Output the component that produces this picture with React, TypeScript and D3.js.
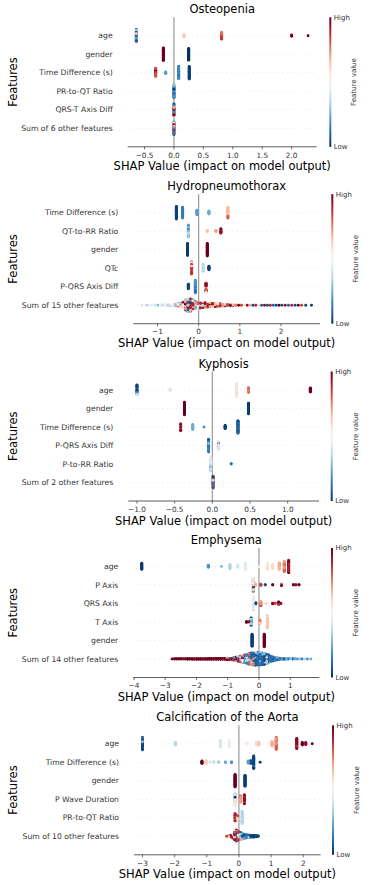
import React from "react";
import * as d3 from "d3";

// [SHAP value, number of samples at that value, normalised feature value 0 (low) .. 1 (high)]
type Cluster = [number, number, number];

// ---------------- Osteopenia ----------------
const osteoFeatures = ["age", "gender", "Time Difference (s)", "PR-to-QT Ratio", "QRS-T Axis Diff", "Sum of 6 other features"];
const osteoTicks = [-0.5, 0, 0.5, 1.0, 1.5, 2.0];
const osteoAge: Cluster[] = [
  [-0.64, 10, 0.08], [-0.64, 8, 0.22], [-0.64, 6, 0.35], [-0.64, 4, 0.45], [-0.64, 3, 0.62],
  [0.17, 8, 0.62], [0.81, 10, 0.78], [0.81, 7, 0.86], [2.0, 4, 0.98], [2.28, 1, 1.0],
];
const osteoGender: Cluster[] = [[-0.18, 31, 1.0], [0.25, 29, 0.0]];
const osteoTimeDiff: Cluster[] = [
  [-0.31, 12, 0.82], [-0.31, 7, 0.97], [-0.31, 4, 0.55], [-0.14, 5, 0.22],
  [0.08, 18, 0.18], [0.08, 12, 0.08], [0.26, 31, 0.03],
];
const osteoPrQt: Cluster[] = [[0.0, 12, 0.2], [0.0, 10, 0.1], [0.0, 6, 0.35], [0.0, 3, 0.02]];
const osteoQrsT: Cluster[] = [[0.0, 8, 0.95], [0.0, 8, 0.2], [0.0, 6, 0.5], [0.0, 5, 0.05], [0.0, 4, 0.7]];
const osteoSum: Cluster[] = [[0.0, 9, 0.15], [0.0, 7, 0.9], [0.0, 6, 0.03], [0.0, 5, 0.5], [0.0, 4, 0.7]];

// ---------------- Hydropneumothorax ----------------
const hydroFeatures = ["Time Difference (s)", "QT-to-RR Ratio", "gender", "QTc", "P-QRS Axis Diff", "Sum of 15 other features"];
const hydroTicks = [-1, 0, 1, 2];
const hydroTimeDiff: Cluster[] = [
  [-0.54, 31, 0.03], [-0.39, 27, 0.15], [-0.04, 12, 0.22], [0.25, 8, 0.25],
  [0.71, 12, 0.65], [0.71, 9, 0.8], [0.71, 6, 0.55],
];
const hydroQtRr: Cluster[] = [
  [-0.25, 12, 0.3], [-0.25, 10, 0.42], [-0.25, 9, 0.18], [0.21, 4, 0.65], [0.42, 4, 0.7],
  [0.54, 8, 0.95], [0.54, 4, 0.8],
];
const hydroGender: Cluster[] = [[-0.27, 30, 0.02], [0.21, 31, 1.0]];
const hydroQtc: Cluster[] = [
  [-0.17, 14, 0.88], [-0.17, 10, 0.7], [-0.17, 7, 0.55], [0.11, 10, 0.35], [0.11, 9, 0.45], [0.25, 10, 0.03],
];
const hydroPQrs: Cluster[] = [
  [-0.25, 12, 0.03], [-0.08, 20, 0.2], [-0.08, 11, 0.12], [0.18, 12, 0.95], [0.18, 9, 0.55], [0.18, 6, 0.8],
];
const hydroSum: Cluster[] = [
  [-1.38, 1, 0.42], [-1.31, 1, 0.5], [-1.25, 1, 0.35], [-1.18, 1, 0.45], [-1.12, 1, 0.5], [-1.05, 2, 0.4],
  [-0.99, 1, 0.28], [-0.93, 2, 0.45], [-0.87, 2, 0.38], [-0.81, 2, 0.5], [-0.75, 3, 0.35], [-0.69, 2, 0.55],
  [-0.69, 1, 0.2], [-0.63, 3, 0.45], [-0.57, 3, 0.3], [-0.57, 2, 0.7],
  [-0.5, 4, 0.45], [-0.5, 3, 0.8], [-0.5, 2, 0.2],
  [-0.44, 5, 0.6], [-0.44, 4, 0.3], [-0.44, 3, 1.0],
  [-0.38, 8, 0.55], [-0.38, 6, 0.95], [-0.38, 5, 0.3],
  [-0.32, 10, 0.7], [-0.32, 9, 1.0], [-0.32, 7, 0.4], [-0.32, 4, 0.1],
  [-0.26, 12, 0.95], [-0.26, 10, 0.6], [-0.26, 8, 0.35], [-0.26, 6, 0.1],
  [-0.2, 12, 0.9], [-0.2, 10, 0.65], [-0.2, 8, 0.4], [-0.2, 6, 0.05],
  [-0.14, 10, 0.9], [-0.14, 8, 0.6], [-0.14, 7, 0.4], [-0.14, 5, 0.1],
  [-0.08, 8, 0.85], [-0.08, 7, 0.6], [-0.08, 6, 0.3],
  [-0.02, 6, 0.8], [-0.02, 5, 0.5], [-0.02, 4, 0.2],
  [0.04, 7, 0.9], [0.04, 6, 0.6], [0.04, 4, 0.3],
  [0.1, 6, 0.95], [0.1, 5, 0.65], [0.1, 4, 0.35],
  [0.16, 6, 0.75], [0.16, 5, 0.95], [0.16, 3, 0.4],
  [0.22, 6, 0.9], [0.22, 5, 0.6], [0.22, 1, 0.3],
  [0.28, 5, 0.7], [0.28, 5, 1.0], [0.28, 2, 0.3],
  [0.34, 5, 0.9], [0.34, 5, 0.6], [0.4, 5, 0.65], [0.4, 5, 0.95],
  [0.46, 5, 0.8], [0.46, 4, 0.55], [0.52, 5, 0.9], [0.52, 3, 0.4],
  [0.58, 4, 0.7], [0.58, 3, 1.0], [0.64, 3, 0.6], [0.64, 3, 0.95],
  [0.7, 3, 0.85], [0.7, 2, 0.3], [0.77, 3, 0.95], [0.77, 1, 0.6], [0.83, 2, 0.65], [0.83, 1, 0.9],
  [0.9, 3, 0.75], [0.97, 1, 1.0], [0.97, 1, 0.6], [1.04, 1, 0.85], [1.11, 1, 0.6],
  [1.18, 1, 0.95], [1.25, 1, 0.7], [1.32, 1, 0.05], [1.39, 1, 0.9], [1.46, 1, 0.6],
  [1.53, 1, 0.08], [1.6, 1, 0.95], [1.67, 1, 0.05], [1.74, 1, 0.9], [1.81, 1, 0.1],
  [1.88, 1, 0.05], [1.95, 1, 1.0], [2.02, 1, 0.05], [2.1, 1, 0.95], [2.18, 1, 0.08],
  [2.26, 1, 0.9], [2.34, 1, 0.05], [2.42, 1, 1.0], [2.5, 1, 0.85], [2.6, 1, 0.03], [2.74, 1, 0.02],
];

// ---------------- Kyphosis ----------------
const kyphFeatures = ["age", "gender", "Time Difference (s)", "P-QRS Axis Diff", "P-to-RR Ratio", "Sum of 2 other features"];
const kyphTicks = [-1.0, -0.5, 0, 0.5, 1.0];
const kyphAge: Cluster[] = [
  [-1.0, 12, 0.03], [-1.0, 8, 0.2], [-1.0, 5, 0.4], [-0.56, 4, 0.42],
  [0.32, 16, 0.56], [0.32, 15, 0.6], [0.48, 9, 0.78], [0.48, 4, 0.7], [1.3, 11, 1.0],
];
const kyphGender: Cluster[] = [[-0.37, 31, 1.0], [0.48, 27, 0.02]];
const kyphTimeDiff: Cluster[] = [
  [-0.42, 10, 0.95], [-0.42, 5, 0.82], [-0.42, 4, 0.5], [-0.26, 13, 0.25], [-0.11, 1, 0.2],
  [0.17, 9, 0.03], [0.34, 16, 0.1], [0.34, 15, 0.03],
];
const kyphPQrs: Cluster[] = [
  [-0.05, 16, 0.15], [-0.05, 10, 0.05], [-0.05, 5, 0.3], [0.08, 12, 0.42], [0.08, 4, 0.95], [0.08, 3, 0.6],
];
const kyphPRr: Cluster[] = [[-0.02, 12, 0.4], [-0.02, 10, 0.3], [-0.02, 7, 0.48], [-0.02, 2, 0.9], [0.25, 2, 0.12]];
const kyphSum: Cluster[] = [[0.01, 9, 0.1], [0.01, 8, 0.85], [0.01, 6, 0.65], [0.01, 5, 0.02], [0.01, 3, 0.4]];

// ---------------- Emphysema ----------------
const emphFeatures = ["age", "P Axis", "QRS Axis", "T Axis", "gender", "Sum of 14 other features"];
const emphTicks = [-4, -3, -2, -1, 0, 1];
const emphAge: Cluster[] = [
  [-3.75, 16, 0.02], [-1.62, 6, 0.2], [-1.2, 1, 0.28], [-0.93, 11, 0.35], [-0.68, 6, 0.4], [-0.43, 16, 0.44],
  [-0.02, 3, 0.5], [0.27, 10, 0.54], [0.27, 6, 0.58], [0.44, 11, 0.6], [0.65, 10, 0.67], [0.65, 6, 0.75],
  [0.81, 14, 0.8], [0.81, 11, 0.72], [0.95, 16, 0.9], [0.95, 15, 1.0],
];
const emphPAxis: Cluster[] = [
  [-0.18, 12, 0.62], [-0.18, 10, 0.03], [-0.18, 9, 0.5], [-0.12, 6, 0.68], [0.06, 4, 0.85], [0.2, 2, 0.05],
  [0.44, 2, 1.0], [0.72, 3, 0.95], [0.72, 2, 0.8], [1.1, 2, 1.0], [1.18, 2, 0.95], [1.28, 2, 1.0],
];
const emphQrsAxis: Cluster[] = [
  [-0.18, 14, 0.45], [-0.18, 10, 0.35], [-0.18, 7, 0.55], [-0.1, 4, 0.05], [0.06, 7, 0.7], [0.06, 4, 0.85],
  [0.22, 2, 0.6], [0.44, 3, 0.95], [0.52, 2, 0.85], [0.63, 5, 1.0], [0.63, 3, 0.85], [0.7, 2, 0.95],
];
const emphTAxis: Cluster[] = [
  [-0.4, 3, 1.0], [-0.33, 2, 0.95], [-0.25, 10, 0.35], [-0.25, 6, 0.2], [-0.25, 4, 0.03],
  [0.03, 6, 0.75], [0.03, 4, 0.55], [0.27, 18, 0.64], [0.27, 13, 0.58],
];
const emphGender: Cluster[] = [[-0.22, 30, 0.02], [0.17, 31, 1.0]];
const emphSum: Cluster[] = [
  [-2.78, 1, 1.0], [-2.7, 2, 1.0], [-2.63, 2, 1.0], [-2.56, 2, 1.0], [-2.49, 2, 1.0], [-2.42, 2, 0.95],
  [-2.35, 2, 1.0], [-2.28, 3, 1.0], [-2.21, 2, 1.0], [-2.14, 3, 1.0], [-2.07, 3, 0.95], [-2.0, 3, 1.0],
  [-1.93, 3, 1.0], [-1.86, 3, 1.0], [-1.79, 3, 0.95], [-1.72, 3, 1.0], [-1.65, 3, 1.0], [-1.58, 4, 1.0],
  [-1.51, 3, 1.0], [-1.44, 4, 0.95], [-1.37, 4, 1.0], [-1.3, 4, 1.0], [-1.23, 4, 1.0], [-1.16, 4, 0.95],
  [-1.09, 4, 1.0],
  [-1.02, 4, 1.0], [-1.02, 2, 0.6], [-0.95, 4, 0.95], [-0.95, 2, 0.3], [-0.88, 4, 1.0], [-0.88, 3, 0.45],
  [-0.81, 5, 0.9], [-0.81, 3, 0.2], [-0.81, 2, 0.6], [-0.74, 6, 0.95], [-0.74, 4, 0.3], [-0.74, 3, 0.55],
  [-0.67, 8, 0.35], [-0.67, 5, 0.9], [-0.67, 4, 0.15], [-0.6, 10, 0.3], [-0.6, 6, 0.85], [-0.6, 5, 0.1],
  [-0.53, 12, 0.25], [-0.53, 7, 0.5], [-0.53, 5, 0.9], [-0.46, 14, 0.2], [-0.46, 8, 0.45], [-0.46, 6, 0.85],
  [-0.39, 16, 0.15], [-0.39, 10, 0.4], [-0.39, 6, 0.75], [-0.32, 18, 0.12], [-0.32, 12, 0.35], [-0.32, 7, 0.8],
  [-0.25, 20, 0.1], [-0.25, 14, 0.3], [-0.25, 8, 0.7], [-0.18, 22, 0.1], [-0.18, 14, 0.3], [-0.18, 8, 0.75],
  [-0.11, 22, 0.08], [-0.11, 15, 0.28], [-0.11, 8, 0.65], [-0.04, 24, 0.1], [-0.04, 14, 0.25], [-0.04, 7, 0.8],
  [0.03, 24, 0.12], [0.03, 14, 0.3], [0.03, 6, 0.9], [0.1, 22, 0.1], [0.1, 14, 0.25], [0.1, 6, 0.7],
  [0.17, 22, 0.05], [0.17, 12, 0.3], [0.17, 5, 0.85], [0.24, 20, 0.1], [0.24, 10, 0.35], [0.24, 4, 0.9],
  [0.31, 16, 0.08], [0.31, 10, 0.3], [0.31, 3, 0.6], [0.38, 14, 0.12], [0.38, 6, 0.3],
  [0.45, 10, 0.1], [0.45, 5, 0.3], [0.52, 8, 0.15], [0.52, 3, 0.35], [0.59, 6, 0.1], [0.59, 2, 0.3],
  [0.66, 5, 0.15], [0.66, 1, 0.4], [0.73, 4, 0.2], [0.8, 3, 0.1], [0.87, 3, 0.25], [0.94, 2, 0.15],
  [1.01, 2, 0.3], [1.08, 2, 0.1], [1.15, 2, 0.25], [1.22, 1, 0.2], [1.3, 2, 0.3], [1.38, 1, 0.15],
  [1.46, 1, 0.35], [1.55, 1, 0.2], [1.66, 1, 0.25],
];

// ---------------- Calcification of the Aorta ----------------
const calcFeatures = ["age", "Time Difference (s)", "gender", "P Wave Duration", "PR-to-QT Ratio", "Sum of 10 other features"];
const calcTicks = [-3, -2, -1, 0, 1, 2];
const calcAge: Cluster[] = [
  [-3.0, 16, 0.03], [-3.0, 10, 0.15], [-3.0, 5, 0.3], [-1.98, 8, 0.36], [-0.58, 16, 0.42], [-0.3, 16, 0.46],
  [0.25, 4, 0.54], [0.55, 8, 0.6], [0.62, 8, 0.64], [1.03, 11, 0.68], [1.16, 20, 0.8], [1.16, 10, 0.72],
  [1.8, 16, 0.95], [1.8, 10, 0.88], [1.97, 7, 1.0], [2.08, 6, 0.95], [2.28, 1, 1.0],
];
const calcTimeDiff: Cluster[] = [
  [-1.15, 7, 1.0], [-1.02, 8, 0.62], [-0.9, 2, 0.42], [-0.78, 2, 0.38], [-0.63, 2, 0.32], [-0.42, 3, 0.25],
  [-0.23, 3, 0.2], [0.29, 6, 0.22], [0.37, 8, 0.06], [0.46, 22, 0.03], [0.46, 9, 0.15], [0.66, 1, 0.02],
];
const calcGender: Cluster[] = [[-0.12, 31, 1.0], [0.19, 27, 0.02]];
const calcPWave: Cluster[] = [
  [-0.12, 10, 0.5], [-0.12, 8, 0.6], [-0.12, 7, 0.38], [-0.12, 4, 0.02], [-0.12, 2, 0.7],
  [0.05, 10, 0.7], [0.05, 6, 0.85], [0.17, 14, 0.95], [0.17, 9, 0.85],
];
const calcPrQt: Cluster[] = [
  [-0.12, 10, 0.9], [-0.12, 6, 0.7], [-0.12, 4, 0.55], [-0.05, 6, 0.85], [-0.05, 4, 0.6],
  [0.1, 18, 0.35], [0.1, 13, 0.42],
];
const calcSum: Cluster[] = [
  [-0.38, 1, 0.85], [-0.32, 2, 0.8], [-0.32, 1, 0.6], [-0.26, 3, 0.95], [-0.26, 2, 0.65],
  [-0.2, 5, 0.9], [-0.2, 3, 0.55], [-0.2, 2, 0.3], [-0.14, 10, 0.95], [-0.14, 6, 0.5], [-0.14, 4, 0.2],
  [-0.08, 14, 0.9], [-0.08, 10, 0.45], [-0.08, 7, 0.1], [-0.02, 10, 0.85], [-0.02, 8, 0.4], [-0.02, 6, 0.15],
  [0.04, 8, 0.3], [0.04, 6, 0.6], [0.04, 4, 0.05], [0.1, 8, 0.25], [0.1, 5, 0.05], [0.1, 3, 0.7],
  [0.16, 7, 0.2], [0.16, 4, 0.05], [0.22, 6, 0.15], [0.22, 3, 0.03], [0.28, 5, 0.1], [0.28, 2, 0.4],
  [0.34, 5, 0.05], [0.34, 1, 0.3], [0.4, 5, 0.03], [0.46, 5, 0.02], [0.52, 4, 0.05], [0.56, 3, 0.02], [0.6, 2, 0.03],
];

const panels = [
  { title: "Osteopenia", features: osteoFeatures, ticks: osteoTicks, fmt: ".1f",
    rows: [osteoAge, osteoGender, osteoTimeDiff, osteoPrQt, osteoQrsT, osteoSum] },
  { title: "Hydropneumothorax", features: hydroFeatures, ticks: hydroTicks, fmt: "d",
    rows: [hydroTimeDiff, hydroQtRr, hydroGender, hydroQtc, hydroPQrs, hydroSum] },
  { title: "Kyphosis", features: kyphFeatures, ticks: kyphTicks, fmt: ".1f",
    rows: [kyphAge, kyphGender, kyphTimeDiff, kyphPQrs, kyphPRr, kyphSum] },
  { title: "Emphysema", features: emphFeatures, ticks: emphTicks, fmt: "d",
    rows: [emphAge, emphPAxis, emphQrsAxis, emphTAxis, emphGender, emphSum] },
  { title: "Calcification of the Aorta", features: calcFeatures, ticks: calcTicks, fmt: "d",
    rows: [calcAge, calcTimeDiff, calcGender, calcPWave, calcPrQt, calcSum] },
];

// layout (pixels)
const layout = [
  { top: 17.3, left: 127.7, right: 316.7, cbX: 330.3 },
  { top: 194.2, left: 133.3, right: 320, cbX: 332.3 },
  { top: 371.5, left: 128.3, right: 319, cbX: 331.7 },
  { top: 548, left: 133.3, right: 319.3, cbX: 332 },
  { top: 725.3, left: 134, right: 320.7, cbX: 333 },
];
const AX_H = 129.5;
const DOT_R = 1.45;
const FONT = "DejaVu Sans, sans-serif";

const golden = (i: number) => (i * 0.6180339887) % 1;

function beeswarm(clusters: Cluster[]) {
  const pts: { v: number; t: number }[] = [];
  clusters.forEach(([v, n, t]) => {
    for (let k = 0; k < n; k++) pts.push({ v, t });
  });
  const N = pts.length;
  const vmin = d3.min(pts, (p) => p.v) as number;
  const vmax = d3.max(pts, (p) => p.v) as number;
  const nbins = 100;
  const quant = pts.map((p) => Math.round((nbins * (p.v - vmin)) / (vmax - vmin + 1e-8)));
  const order = d3.range(N).sort((a, b) => quant[a] - quant[b] || golden(a) - golden(b));
  const ys = new Array(N).fill(0);
  let layer = 0;
  let last = -1;
  for (const i of order) {
    if (quant[i] !== last) layer = 0;
    ys[i] = Math.ceil(layer / 2) * ((layer % 2) * 2 - 1);
    layer++;
    last = quant[i];
  }
  const maxY = d3.max(ys, (y) => y + 1) as number;
  const s = (0.9 * 0.4) / maxY;
  const drawOrder = d3.range(N).sort((a, b) => golden(a * 7 + 3) - golden(b * 7 + 3));
  return drawOrder.map((i) => ({ v: pts[i].v, t: pts[i].t, dy: ys[i] * s }));
}

const cmap = (t: number) => d3.interpolateRdBu(1 - t);

export default function App() {
  const stops = d3.range(0, 1.0001, 0.05);
  return (
    <svg
      width={374}
      height={885}
      style={{ position: "absolute", left: 0, top: 0, display: "block", background: "#fff" }}
      fontFamily={FONT}
    >
      <defs>
        <linearGradient id="cbGrad" x1="0" y1="1" x2="0" y2="0">
          {stops.map((s) => (
            <stop key={s} offset={s} stopColor={cmap(s)} />
          ))}
        </linearGradient>
      </defs>
      {panels.map((p, pi) => {
        const L = layout[pi];
        const n = p.features.length;
        const step = AX_H / (n + 1);
        const bottom = L.top + AX_H;
        const all = p.rows.flat();
        const lo = d3.min(all, (c) => c[0]) as number;
        const hi = d3.max(all, (c) => c[0]) as number;
        const pad = (hi - lo) * 0.05;
        const x = d3.scaleLinear().domain([lo - pad, hi + pad]).range([L.left, L.right]);
        const fmt = d3.format(p.fmt);
        const cx = (L.left + L.right) / 2;
        const cy = L.top + AX_H / 2;
        return (
          <g key={pi}>
            <text x={cx} y={L.top - 4} textAnchor="middle" fontSize={11.5} fill="#000">
              {p.title}
            </text>
            {p.features.map((f, i) => {
              const ry = L.top + (i + 1) * step;
              return (
                <g key={f}>
                  <line x1={L.left} x2={L.right} y1={ry} y2={ry} stroke="#cccccc" strokeWidth={0.6} strokeDasharray="0.8 3.5" />
                  <text x={L.left - 15} y={ry} dy="0.35em" textAnchor="end" fontSize={7.7} fill="#333">
                    {f}
                  </text>
                </g>
              );
            })}
            <line x1={x(0)} x2={x(0)} y1={L.top} y2={bottom} stroke="#999" strokeWidth={1.2} />
            {p.rows.map((row, i) => {
              const ry = L.top + (i + 1) * step;
              return (
                <g key={i}>
                  {beeswarm(row).map((d, k) => (
                    <circle key={k} cx={x(d.v)} cy={ry - d.dy * step} r={DOT_R} fill={cmap(d.t)} />
                  ))}
                </g>
              );
            })}
            <line x1={L.left} x2={L.right} y1={bottom} y2={bottom} stroke="#333" strokeWidth={0.8} />
            {p.ticks.map((t) => (
              <g key={t} transform={`translate(${x(t)},${bottom})`}>
                <line y1={0} y2={2.6} stroke="#333" strokeWidth={0.7} />
                <text y={10.8} textAnchor="middle" fontSize={7.3} fill="#333">
                  {fmt(t)}
                </text>
              </g>
            ))}
            <text x={cx} y={bottom + 23.5} textAnchor="middle" fontSize={11.5} fill="#000">
              SHAP Value (impact on model output)
            </text>
            <text transform={`translate(16.5,${cy}) rotate(-90)`} textAnchor="middle" fontSize={11.5} fill="#000">
              Features
            </text>
            <rect x={L.cbX - 1} y={L.top} width={2} height={AX_H} fill="url(#cbGrad)" />
            <text x={L.cbX + 3.5} y={L.top} dy="0.35em" fontSize={7} fill="#333">
              High
            </text>
            <text x={L.cbX + 3.5} y={bottom} dy="0.35em" fontSize={7} fill="#333">
              Low
            </text>
            <text transform={`translate(${L.cbX + 26},${cy}) rotate(-90)`} textAnchor="middle" fontSize={7} fill="#333">
              Feature value
            </text>
          </g>
        );
      })}
    </svg>
  );
}
